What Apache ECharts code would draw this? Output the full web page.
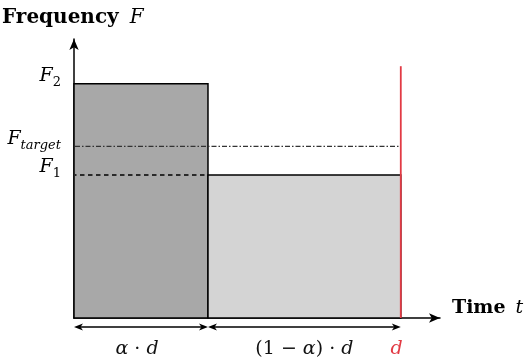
<!DOCTYPE html>
<html>
<head>
<meta charset="utf-8">
<script src="https://cdn.jsdelivr.net/npm/echarts@6/dist/echarts.min.js"></script>
<style>html,body{margin:0;padding:0;background:#fff;}#c{width:525px;height:358px;}</style>
</head>
<body>
<div id="c"></div>
<script>
// ---- data (d = 1, F in arbitrary units) ----
const phaseStart = [0, 0.41];          // start of each phase (time)
const phaseEnd = [0.41, 1.0];          // end of each phase (time)
const phaseFreq = [1.68, 1.025];       // frequency of each phase (F2, F1)
const phaseColor = ['#a8a8a8', '#d4d4d4'];
const levelMain = ['F', 'F', 'F'];
const levelSub = ['2', 'target', '1'];
const levelValue = [1.68, 1.23, 1.025];
const deadlineTime = 1.0;              // d
const deadlineTop = 1.805;
// span labels as rich-text pieces: i = italic math, u = upright
const spanLabels = ['{i|α}{u| · }{i|d}', '{u|(1 − }{i|α}{u|) · }{i|d}'];
const deadlineLabel = 'd';
const arrowLevel = -0.0645;            // height of the span arrows
const xMax = 1.12, yMax = 2.0;

const MATH = '"DejaVu Serif", "Liberation Serif", serif';

function arrowHead(tip, dir, color) {
  const L = 9, W = 3.5, N = 6.5;
  return {
    type: 'polygon',
    shape: { points: [
      [tip[0], tip[1]],
      [tip[0] - dir * L, tip[1] - W],
      [tip[0] - dir * N, tip[1]],
      [tip[0] - dir * L, tip[1] + W]
    ]},
    style: { fill: color }
  };
}

const chart = echarts.init(document.getElementById('c'), null, { renderer: 'canvas' });

const mathRich = {
  i: { fontFamily: MATH, fontStyle: 'italic', fontSize: 19 },
  u: { fontFamily: MATH, fontSize: 19 }
};

const option = {
  animation: false,
  backgroundColor: '#fff',
  grid: { left: 74, top: 39, width: 366, height: 279, containLabel: false },
  xAxis: {
    type: 'value', min: 0, max: xMax,
    axisLine: { show: true, onZero: false, symbol: ['none', 'arrow'], symbolSize: [7, 11],
      lineStyle: { color: '#000', width: 1.5 } },
    axisTick: { show: false }, axisLabel: { show: false }, splitLine: { show: false }
  },
  yAxis: {
    type: 'value', min: 0, max: yMax,
    axisLine: { show: true, onZero: false, symbol: ['none', 'arrow'], symbolSize: [7, 11],
      lineStyle: { color: '#000', width: 1.5 } },
    axisTick: { show: false }, axisLabel: { show: false }, splitLine: { show: false }
  },
  graphic: [
    { type: 'text', left: 2, top: 8, z: 10,
      style: { text: '{b|Frequency}{i|F}', fill: '#000',
        rich: { b: { fontFamily: MATH, fontWeight: 'bold', fontSize: 20, padding: [0, 11, 0, 0] },
                i: { fontFamily: MATH, fontStyle: 'italic', fontSize: 20 } } } },
    { type: 'text', left: 452, top: 299, z: 10,
      style: { text: '{b|Time}{i|t}', fill: '#000',
        rich: { b: { fontFamily: MATH, fontWeight: 'bold', fontSize: 19, padding: [0, 10, 0, 0] },
                i: { fontFamily: MATH, fontStyle: 'italic', fontSize: 19 } } } }
  ],
  series: [
    {
      // phase rectangles
      type: 'custom', z: 1,
      data: phaseStart.map((s, i) => [s, phaseEnd[i], phaseFreq[i]]),
      renderItem: function (params, api) {
        const p0 = api.coord([api.value(0), api.value(2)]);
        const p1 = api.coord([api.value(1), 0]);
        return {
          type: 'rect',
          shape: { x: p0[0], y: p0[1], width: p1[0] - p0[0], height: p1[1] - p0[1] },
          style: { fill: phaseColor[params.dataIndex], stroke: '#000', lineWidth: 1.5 }
        };
      }
    },
    {
      // F_target dash-dot line and F1 dashed line
      type: 'custom', z: 3,
      data: [[0, deadlineTime, levelValue[1], 0], [0, phaseEnd[0], levelValue[2], 1]],
      renderItem: function (params, api) {
        const a = api.coord([api.value(0), api.value(2)]);
        const b = api.coord([api.value(1), api.value(2)]);
        const dashed = api.value(3) === 1;
        return {
          type: 'line',
          shape: { x1: a[0] + 1, y1: a[1], x2: b[0], y2: b[1] },
          style: { stroke: dashed ? '#000' : '#333', lineWidth: dashed ? 1.4 : 1.2,
            lineDash: dashed ? [4.5, 3.5] : [5, 2, 1.5, 2], lineDashOffset: dashed ? -5 : 0 }
        };
      }
    },
    {
      // deadline line
      type: 'custom', z: 4,
      data: [[deadlineTime, deadlineTop]],
      renderItem: function (params, api) {
        const a = api.coord([api.value(0), 0]);
        const b = api.coord([api.value(0), api.value(1)]);
        return { type: 'line', shape: { x1: a[0], y1: a[1], x2: b[0], y2: b[1] },
          style: { stroke: '#e23a44', lineWidth: 1.8 } };
      }
    },
    {
      // level labels on the left
      type: 'custom', z: 5,
      data: levelValue.map((v, i) => [0, v, i]),
      renderItem: function (params, api) {
        const i = api.value(2);
        const p = api.coord([api.value(0), api.value(1)]);
        const subItalic = isNaN(Number(levelSub[i]));
        return {
          type: 'text',
          style: {
            x: p[0] - 13, y: p[1] - 1,
            text: '{v|' + levelMain[i] + '}{s|' + levelSub[i] + '}',
            align: 'right', verticalAlign: 'middle', fill: '#000',
            rich: {
              v: { fontFamily: MATH, fontStyle: 'italic', fontSize: 19, lineHeight: 20, verticalAlign: 'top' },
              s: { fontFamily: MATH, fontStyle: subItalic ? 'italic' : 'normal', fontSize: 13, lineHeight: 32, verticalAlign: 'middle' }
            }
          }
        };
      }
    },
    {
      // span arrows and their labels
      type: 'custom', z: 5,
      data: phaseStart.map((s, i) => [s, phaseEnd[i], arrowLevel, i]),
      renderItem: function (params, api) {
        const a = api.coord([api.value(0), api.value(2)]);
        const b = api.coord([api.value(1), api.value(2)]);
        const i = api.value(3);
        return {
          type: 'group',
          children: [
            { type: 'line', shape: { x1: a[0] + 3, y1: a[1], x2: b[0] - 3, y2: b[1] },
              style: { stroke: '#000', lineWidth: 1.4 } },
            arrowHead(a, -1, '#000'),
            arrowHead(b, 1, '#000'),
            { type: 'text', style: { x: (a[0] + b[0]) / 2 - (i === 0 ? 4 : 0), y: a[1] + 22,
                text: spanLabels[i], align: 'center', verticalAlign: 'middle', fill: '#111',
                rich: mathRich } }
          ]
        };
      }
    },
    {
      // deadline label
      type: 'custom', z: 5,
      data: [[deadlineTime, arrowLevel]],
      renderItem: function (params, api) {
        const p = api.coord([api.value(0), api.value(1)]);
        return { type: 'text', style: { x: p[0] + 2, y: p[1] + 22, text: deadlineLabel,
          align: 'right', verticalAlign: 'middle', fill: '#e23a44', font: 'italic 19px ' + MATH } };
      }
    }
  ]
};
chart.setOption(option);
</script>
</body>
</html>
